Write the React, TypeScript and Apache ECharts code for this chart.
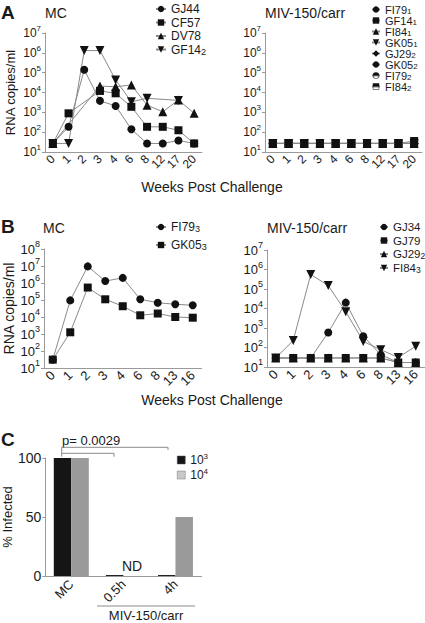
import React, { useEffect, useRef } from "react";
import * as echarts from "echarts";

// ---------- DATA ----------
const weeksA = ["0", "1", "2", "3", "4", "6", "8", "12", "17", "20"];
const weeksB = ["0", "1", "2", "3", "4", "6", "8", "13", "16"];

// Panel A, MC
const gj44 = [27, 186, 140000, 3800, 2100, 140, 27, 27, 38, 27];
const cf57 = [27, 890, null, 12000, 9100, 1900, 186, 186, 125, 27];
const dv78 = [27, null, null, 21000, 19500, 24000, 2300, 1070, 4200, 890];
const gf14_2 = [27, 27, 1300000, 1300000, 43000, 3400, 5100, null, 4000, null];

// Panel A, MIV-150/carr
const fi79_1 = [27, 27, 27, 27, 27, 27, 27, 27, 27, 27];
const gf14_1 = [27, 27, 27, 27, 27, 27, 27, 27, 27, 27];
const fi84_1 = [27, 27, 27, 27, 27, 27, 27, 27, 27, 27];
const gk05_1 = [27, 27, 27, 27, 27, 27, 27, 27, 27, 27];
const gj29_2a = [27, 27, 27, 27, 27, 27, 27, 27, 27, 27];
const gk05_2 = [27, 27, 27, 27, 27, 27, 27, 27, 27, 27];
const fi79_2 = [27, 27, 27, 27, 27, 27, 27, 27, 27, 27];
const fi84_2 = [27, 27, 27, 27, 27, 27, 27, 27, 27, 36];

// Panel B, MC
const fi79_3 = [31, 95000, 9500000, 1300000, 2000000, 110000, 69000, 56000, 49000];
const gk05_3 = [31, 1260, 540000, 110000, 43000, 12600, 16000, 10000, 9100];

// Panel B, MIV-150/carr
const gj34 = [29, 29, 29, 590, 20000, 380, 43, 17, 17];
const gj79 = [29, 29, 29, 29, 29, 29, 29, 17, 17];
const gj29_2b = [29, 29, 29, 29, 29, 29, 29, 17, 17];
const fi84_3 = [29, 230, 560000, 150000, 6900, 205, 77, 31, 115];

// Panel C
const cCats = ["MC", "0.5h", "4h"];
const inf1e3 = [100, 0.8, 0.8];
const inf1e4 = [100, null, 50];

// ---------- STYLE ----------
const FONT = "'Liberation Sans', Arial, Helvetica, sans-serif";
const TXT = "#1a1a1a";
const AX = "#9a9a9a";
const DOWN = "path://M0,0L10,0L5,9Z";
const HALF_CIRCLE =
  "path://M0,10A10,10 0 0,1 20,10A10,10 0 0,1 0,10L1.5,10A8.5,8.5 0 0,0 18.5,10L20,10Z";
const HALF_SQUARE =
  "path://M0,0L20,0L20,20L0,20L0,10L1.5,10L1.5,18.5L18.5,18.5L18.5,10L0,10Z";

const supLabel = (fs: number) => ({
  color: TXT,
  margin: 4,
  fontFamily: FONT,
  formatter: (v: number) => `{b|10}{s|${Math.round(Math.log10(v))}}`,
  rich: {
    b: { fontSize: fs, fontFamily: FONT, color: TXT },
    s: { fontSize: fs - 4, fontFamily: FONT, color: TXT, padding: [0, 0, fs - 3, 0] },
  },
});

const legendFormatter = (name: string) => {
  const n = name.split("|")[1];
  const [a, b] = n.split("_");
  return b ? `{n|${a}}{s|${b}}` : `{n|${a}}`;
};
const legendRich = (fs: number) => ({
  n: { fontSize: fs, fontFamily: FONT, color: TXT },
  s: { fontSize: fs - 3, fontFamily: FONT, color: TXT, padding: [4, 0, 0, 0] },
});

function line(name: string, data: (number | null)[], symbol: string, xi: number, size = 8, z = 2) {
  return {
    type: "line",
    name,
    data,
    xAxisIndex: xi,
    yAxisIndex: xi,
    symbol,
    symbolSize: size,
    connectNulls: true,
    itemStyle: { color: "#111" },
    lineStyle: { color: "#8a8a8a", width: 1 },
    emphasis: { disabled: true },
    z,
  };
}

function catAxis(grid: number, data: string[], fs: number) {
  return {
    type: "category",
    gridIndex: grid,
    data,
    boundaryGap: true,
    axisLine: { lineStyle: { color: AX } },
    axisTick: { alignWithLabel: true, length: 3, lineStyle: { color: AX } },
    axisLabel: { rotate: 45, fontSize: fs, margin: 5, color: TXT, fontFamily: FONT, interval: 0 },
  };
}

function logAxis(grid: number, max: number, fs: number, name?: string) {
  return {
    type: "log",
    gridIndex: grid,
    logBase: 10,
    min: 10,
    max,
    interval: 1,
    name: name || "",
    nameLocation: "middle",
    nameGap: 28,
    nameTextStyle: { fontSize: fs + 1, color: TXT, fontFamily: FONT },
    axisLine: { show: true, lineStyle: { color: AX } },
    axisTick: { show: true, length: 3, lineStyle: { color: AX } },
    splitLine: { show: false },
    axisLabel: supLabel(fs),
  };
}

function legendBox(names: string[], left: number, top: number, gap: number, fs: number, iw = 10) {
  return {
    data: names,
    left,
    top,
    padding: 0,
    orient: "vertical",
    itemWidth: iw,
    itemHeight: 8,
    itemGap: gap,
    selectedMode: false,
    formatter: legendFormatter,
    textStyle: { fontSize: fs, color: TXT, fontFamily: FONT, rich: legendRich(fs) },
  };
}

const txt = (text: string, x: number, y: number, fs: number, align = "left", weight = "normal") => ({
  type: "text",
  x,
  y,
  style: {
    text,
    fontSize: fs,
    fontFamily: FONT,
    fontWeight: weight,
    fill: TXT,
    textAlign: align,
    textVerticalAlign: "middle",
  },
});
const seg = (x1: number, y1: number, x2: number, y2: number) => ({
  type: "line",
  shape: { x1, y1, x2, y2 },
  style: { stroke: "#8a8a8a", lineWidth: 1 },
});

export default function App() {
  const ref = useRef<HTMLDivElement>(null);
  useEffect(() => {
    if (!ref.current) return;
    const chart = echarts.init(ref.current, undefined, { renderer: "svg" });
    const option = {
      animation: false,
      backgroundColor: "#fff",
      textStyle: { fontFamily: FONT },
      grid: [
        { left: 45, top: 33, width: 157, height: 119 },
        { left: 265, top: 33, width: 157, height: 119 },
        { left: 44, top: 249, width: 157.5, height: 119 },
        { left: 267, top: 250, width: 157.5, height: 117 },
        { left: 43.5, top: 458, width: 158, height: 118 },
      ],
      xAxis: [
        catAxis(0, weeksA, 12),
        catAxis(1, weeksA, 12),
        catAxis(2, weeksB, 13),
        catAxis(3, weeksB, 13),
        {
          type: "category",
          gridIndex: 4,
          data: cCats,
          axisLine: { lineStyle: { color: AX } },
          axisTick: { show: false },
          axisLabel: { rotate: 45, fontSize: 13, margin: 6, color: TXT, fontFamily: FONT, interval: 0 },
        },
      ],
      yAxis: [
        logAxis(0, 1e7, 12, "RNA copies/ml"),
        logAxis(1, 1e7, 12),
        logAxis(2, 1e8, 13, "RNA copies/ml"),
        logAxis(3, 1e7, 13),
        {
          type: "value",
          gridIndex: 4,
          min: 0,
          max: 100,
          interval: 50,
          name: "% Infected",
          nameLocation: "middle",
          nameGap: 27,
          nameTextStyle: { fontSize: 13, color: TXT, fontFamily: FONT },
          axisLine: { show: true, lineStyle: { color: AX } },
          axisTick: { show: true, length: 3, lineStyle: { color: AX } },
          splitLine: { show: false },
          axisLabel: { fontSize: 14, color: TXT, fontFamily: FONT, margin: 4 },
        },
      ],
      legend: [
        legendBox(["a1|GJ44", "a1|CF57", "a1|DV78", "a1|GF14_2"], 155, 3, 1.5, 12),
        legendBox(
          ["a2|FI79_1", "a2|GF14_1", "a2|FI84_1", "a2|GK05_1", "a2|GJ29_2", "a2|GK05_2", "a2|FI79_2", "a2|FI84_2"],
          371,
          4,
          -0.5,
          11,
          8
        ),
        legendBox(["b1|FI79_3", "b1|GK05_3"], 155, 221, 5.5, 12),
        legendBox(["b2|GJ34", "b2|GJ79", "b2|GJ29_2", "b2|FI84_3"], 379, 221, 1.5, 11.5, 8),
        {
          data: [
            { name: "10_3", itemStyle: { color: "#151515", borderColor: "#555", borderWidth: 0.5 } },
            { name: "10_4", itemStyle: { color: "#c9c9c9", borderColor: "#777", borderWidth: 0.5 } },
          ],
          left: 177,
          top: 452,
          padding: 0,
          orient: "vertical",
          icon: "rect",
          itemWidth: 8,
          itemHeight: 8,
          itemGap: 1,
          selectedMode: false,
          formatter: (n: string) => `{n|10}{p|${n.split("_")[1]}}`,
          textStyle: {
            fontSize: 12,
            color: TXT,
            fontFamily: FONT,
            rich: {
              n: { fontSize: 12, fontFamily: FONT, color: TXT },
              p: { fontSize: 8, fontFamily: FONT, color: TXT, padding: [0, 0, 8, 0] },
            },
          },
        },
      ],
      series: [
        line("a1|GJ44", gj44, "circle", 0),
        line("a1|CF57", cf57, "rect", 0),
        line("a1|DV78", dv78, "triangle", 0, 9),
        line("a1|GF14_2", gf14_2, DOWN, 0, 9),
        line("a2|FI79_1", fi79_1, "circle", 1),
        line("a2|GF14_1", gf14_1, "rect", 1, 8, 4),
        line("a2|FI84_1", fi84_1, "triangle", 1, 9),
        line("a2|GK05_1", gk05_1, DOWN, 1, 9),
        line("a2|GJ29_2", gj29_2a, "diamond", 1, 9),
        line("a2|GK05_2", gk05_2, "circle", 1),
        line("a2|FI79_2", fi79_2, HALF_CIRCLE, 1),
        line("a2|FI84_2", fi84_2, HALF_SQUARE, 1, 8, 3),
        line("b1|FI79_3", fi79_3, "circle", 2),
        line("b1|GK05_3", gk05_3, "rect", 2),
        line("b2|GJ34", gj34, "circle", 3),
        line("b2|GJ79", gj79, "rect", 3, 8, 4),
        line("b2|GJ29_2", gj29_2b, "triangle", 3, 9),
        line("b2|FI84_3", fi84_3, DOWN, 3, 9),
        {
          type: "bar",
          name: "10_3",
          data: inf1e3,
          xAxisIndex: 4,
          yAxisIndex: 4,
          barWidth: 17.5,
          barGap: "0%",
          itemStyle: { color: "#151515" },
          emphasis: { disabled: true },
        },
        {
          type: "bar",
          name: "10_4",
          data: inf1e4,
          xAxisIndex: 4,
          yAxisIndex: 4,
          barWidth: 17.5,
          barGap: "0%",
          itemStyle: { color: "#9a9a9a" },
          emphasis: { disabled: true },
        },
      ],
      graphic: [
        txt("A", 1, 12, 19, "left", "bold"),
        txt("B", 1, 226, 19, "left", "bold"),
        txt("C", 1, 439, 19, "left", "bold"),
        txt("MC", 45, 13, 14),
        txt("MIV-150/carr", 265, 13, 14),
        txt("MC", 43, 228, 14),
        txt("MIV-150/carr", 267, 228, 14),
        txt("Weeks Post Challenge", 212, 187, 14, "center"),
        txt("Weeks Post Challenge", 212, 400, 14, "center"),
        txt("p= 0.0029", 62, 440, 13),
        seg(61.7, 447.3, 168, 447.3),
        seg(168, 447.3, 168, 450),
        seg(61.7, 447.3, 61.7, 456.7),
        seg(61.7, 453.3, 114, 453.3),
        seg(114, 453.3, 114, 456.7),
        txt("ND", 132, 566, 14, "center"),
        seg(97, 606, 195, 606),
        txt("MIV-150/carr", 146, 615, 13, "center"),
      ],
    };
    chart.setOption(option as any);
    return () => chart.dispose();
  }, []);
  return <div ref={ref} style={{ position: "absolute", left: 0, top: 0, width: 425, height: 623 }} />;
}
